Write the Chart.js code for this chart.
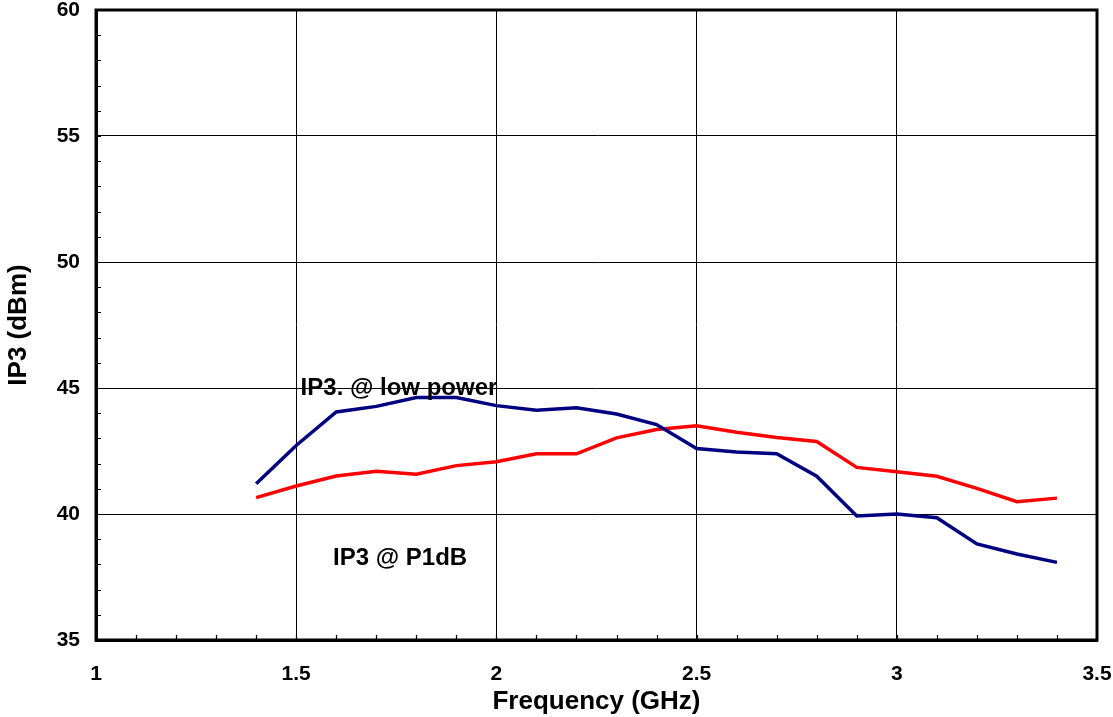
<!DOCTYPE html>
<html><head><meta charset="utf-8">
<script src="https://cdn.jsdelivr.net/npm/chart.js@4.4.1/dist/chart.umd.min.js"></script>
<style>html,body{margin:0;padding:0;background:#fff;}#wrap{width:1113px;height:717px;}</style>
</head><body><div id="wrap"><canvas id="c" width="1113" height="717"></canvas></div>
<script>
const freq = [1.4,1.5,1.6,1.7,1.8,1.9,2.0,2.1,2.2,2.3,2.4,2.5,2.6,2.7,2.8,2.9,3.0,3.1,3.2,3.3,3.4];
const ip3Low = [41.2,42.72,44.05,44.27,44.62,44.62,44.3,44.12,44.22,43.97,43.55,42.6,42.46,42.39,41.5,39.92,40.0,39.85,38.81,38.41,38.08];
const ip3P1dB = [40.65,41.11,41.51,41.7,41.58,41.92,42.07,42.39,42.39,43.02,43.35,43.5,43.24,43.04,42.88,41.85,41.68,41.5,41.02,40.49,40.63];
const xTicks = [1,1.5,2,2.5,3,3.5];
const yTicks = [35,40,45,50,55,60];
const notes = [
  {text:'IP3. @ low power', x:1.511, y:44.72},
  {text:'IP3 @ P1dB', x:1.592, y:37.98}
];
const FONT = '"Liberation Sans", Arial, sans-serif';

const frame = {
  id:'frame',
  afterDatasetsDraw(chart){
    const {ctx, chartArea:a, scales:{x,y}} = chart;
    ctx.save();
    ctx.strokeStyle='#000'; ctx.lineWidth=1.2;
    ctx.beginPath();
    for(let v=1.1; v<3.5; v+=0.1){
      const px = Math.round(x.getPixelForValue(v))+0.5;
      ctx.moveTo(px,a.bottom); ctx.lineTo(px,a.bottom-5);
    }
    for(let v=36; v<60; v+=1){
      const py = Math.round(y.getPixelForValue(v))+0.5;
      ctx.moveTo(a.left,py); ctx.lineTo(a.left+5,py);
    }
    ctx.stroke();
    ctx.lineWidth=3;
    ctx.strokeRect(a.left,a.top,a.right-a.left,a.bottom-a.top);
    ctx.fillStyle='#000';
    ctx.font='bold 24px '+FONT;
    ctx.textBaseline='alphabetic'; ctx.textAlign='left';
    notes.forEach(n=>ctx.fillText(n.text, x.getPixelForValue(n.x), y.getPixelForValue(n.y)));
    ctx.restore();
  }
};

new Chart(document.getElementById('c'), {
  type:'scatter',
  data:{datasets:[
    {label:'IP3 @ low power', data:freq.map((f,i)=>({x:f,y:ip3Low[i]})), showLine:true, borderColor:'#000080', backgroundColor:'#000080', borderWidth:3.5, pointRadius:0, tension:0},
    {label:'IP3 @ P1dB', data:freq.map((f,i)=>({x:f,y:ip3P1dB[i]})), showLine:true, borderColor:'#ff0000', backgroundColor:'#ff0000', borderWidth:3.5, pointRadius:0, tension:0}
  ]},
  options:{
    responsive:false, animation:false,
    layout:{padding:{top:10,right:16,left:0,bottom:0}},
    plugins:{legend:{display:false}, tooltip:{enabled:false}},
    scales:{
      x:{type:'linear', min:1, max:3.5,
        afterBuildTicks(s){ s.ticks = xTicks.map(v=>({value:v})); },
        afterFit(s){ s.height = 77; s.paddingLeft = 0; s.paddingRight = 0; },
        grid:{color:'#000', lineWidth:1, drawTicks:false},
        border:{color:'#000', width:3},
        ticks:{color:'#000', padding:22, font:{family:FONT, size:21, weight:'bold'}, maxRotation:0, callback:v=>String(v)},
        title:{display:true, text:'Frequency (GHz)', color:'#000', font:{family:FONT, size:26, weight:'bold'}, padding:{top:0,bottom:0}}
      },
      y:{type:'linear', min:35, max:60,
        afterBuildTicks(s){ s.ticks = yTicks.map(v=>({value:v})); },
        afterFit(s){ s.width = 96; s.paddingTop = 0; s.paddingBottom = 0; },
        grid:{color:'#000', lineWidth:1, drawTicks:false},
        border:{color:'#000', width:3},
        ticks:{color:'#000', padding:16, font:{family:FONT, size:21, weight:'bold'}, callback:v=>String(v)},
        title:{display:true, text:'IP3 (dBm)', color:'#000', font:{family:FONT, size:26, weight:'bold'}, padding:{top:3,bottom:0}}
      }
    }
  },
  plugins:[frame]
});
</script></body></html>
